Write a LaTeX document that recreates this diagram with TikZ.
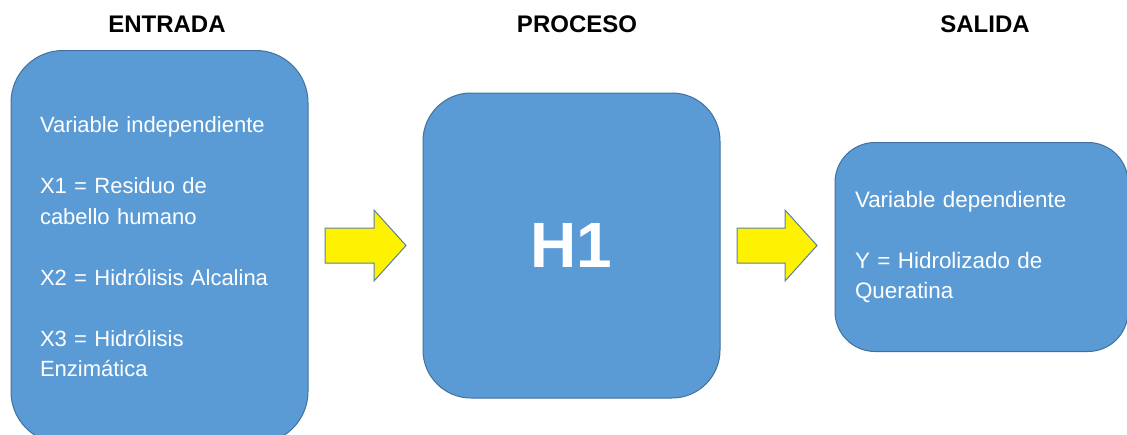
\documentclass[tikz,border=0pt]{standalone}
\usepackage{fontspec}
\setmainfont{Liberation Sans}
\usetikzlibrary{positioning}

\definecolor{boxblue}{HTML}{5B9BD5}
\definecolor{boxline}{HTML}{41719C}
\definecolor{arrowline}{HTML}{5A7FA3}

\begin{document}
\begin{tikzpicture}[x=1pt,y=-1pt]
		\tikzstyle {block} = [draw=boxline, fill=boxblue, line width=1pt, text=white, inner ysep=0pt]
		\tikzstyle {title} = [font=\fontsize{24}{28}\selectfont\bfseries, anchor=base]
		\tikzstyle {body} = [font=\fontsize{22}{30.5}\selectfont, align=left]
		\tikzstyle {yarrow} = [draw=arrowline, fill=yellow, line width=1pt, line join=miter]

		\useasboundingbox (0,0) rectangle (1127,434);

		% titulos
		\node[title] (tin) at (167,32) {ENTRADA};
		\node[title] (tpro) at (577,32) {PROCESO};
		\node[title] (tout) at (985,32) {SALIDA};

		% cajas
		\node[block, body, rounded corners=52pt, minimum width=297pt, minimum height=393pt,
		      text width=239pt, inner xsep=29pt] (entrada) at (159.5,247)
		  {Variable independiente\\[30.5pt]
		   X1 = Residuo de\\ cabello humano\\[30.5pt]
		   X2 = Hidrólisis Alcalina\\[30.5pt]
		   X3 = Hidrólisis\\ Enzimática};

		\node[block, rounded corners=48pt, minimum width=297pt, minimum height=305pt,
		      font=\fontsize{64}{70}\selectfont\bfseries] (proceso) at (571.5,245.5) {H1};

		\node[block, body, rounded corners=40pt, minimum width=293pt, minimum height=209pt,
		      text width=253pt, inner xsep=20pt, font=\fontsize{22.4}{30.5}\selectfont] (salida) at (981.5,247)
		  {Variable dependiente\\[30.5pt]
		   Y = Hidrolizado de\\ Queratina};

		% flechas
		\draw[yarrow] (325,228) -- (374,228) -- (374,210) -- (406,245.5)
		  -- (374,281) -- (374,263) -- (325,263) -- cycle;
		\draw[yarrow] (737,228) -- (785,228) -- (785,210) -- (817,245.5)
		  -- (785,281) -- (785,263) -- (737,263) -- cycle;

\end{tikzpicture}
\end{document}
